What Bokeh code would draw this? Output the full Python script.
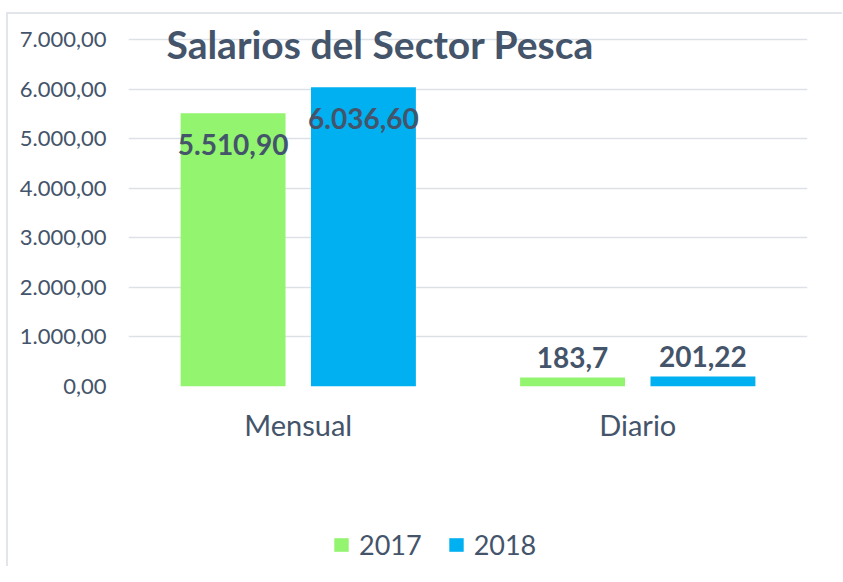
from bokeh.plotting import figure
from bokeh.layouts import column
from bokeh.models import (ColumnDataSource, FactorRange, Range1d, FixedTicker, Label,
                          Legend, LegendItem)
from bokeh.transform import dodge
from bokeh.core.properties import value
from bokeh.embed import file_html
from bokeh.resources import INLINE

# ---- data ----
categories = ["Mensual", "Diario"]
series_names = ["2017", "2018"]
values_2017 = [5510.90, 183.70]
values_2018 = [6036.60, 201.22]
labels_2017 = ["5.510,90", "183,7"]
labels_2018 = ["6.036,60", "201,22"]
y_ticks = [0, 1000, 2000, 3000, 4000, 5000, 6000, 7000]
y_tick_labels = ["0,00", "1.000,00", "2.000,00", "3.000,00", "4.000,00",
                 "5.000,00", "6.000,00", "7.000,00"]
title_text = "Salarios del Sector Pesca"

# ---- style ----
TEXT = "#44546A"
GREEN = "#92F46F"
BLUE = "#00B0F0"
GRID = "#DDE1E6"
FONT = "Lato"


def label_offsets(vals):
    # inside-end for tall bars, outside-end for short bars (pixels, screen down)
    return [31 if v >= 1000 else -20 for v in vals]


src = ColumnDataSource(dict(
    cat=categories,
    v17=values_2017, v18=values_2018,
    l17=labels_2017, l18=labels_2018,
    o17=label_offsets(values_2017), o18=label_offsets(values_2018),
))

# frame extends a little above the top tick so the title is not clipped
p = figure(width=834, height=502, output_backend="svg", toolbar_location=None,
           x_range=FactorRange(factors=categories, range_padding=0),
           y_range=Range1d(0, 7504),
           min_border_left=120, min_border_right=35, min_border_top=0, min_border_bottom=130,
           background_fill_color="white", border_fill_color="white")
p.outline_line_color = None

OFF = 0.192
W = 0.309
r17 = p.vbar(x=dodge("cat", -OFF, range=p.x_range), top="v17", width=W, source=src,
             fill_color=GREEN, line_color=None)
r18 = p.vbar(x=dodge("cat", OFF, range=p.x_range), top="v18", width=W, source=src,
             fill_color=BLUE, line_color=None)

p.text(x=dodge("cat", -OFF, range=p.x_range), y="v17", text="l17", y_offset="o17", source=src,
       text_font=value(FONT), text_font_style="bold", text_font_size="28px",
       text_color=TEXT, text_align="center", text_baseline="middle")
p.text(x=dodge("cat", OFF, range=p.x_range), y="v18", text="l18", y_offset="o18", source=src,
       text_font=value(FONT), text_font_style="bold", text_font_size="28px",
       text_color=TEXT, text_align="center", text_baseline="middle")

# axes
p.yaxis.ticker = FixedTicker(ticks=y_ticks)
p.yaxis.major_label_overrides = {t: s for t, s in zip(y_ticks, y_tick_labels)}
p.yaxis.major_label_text_font = FONT
p.yaxis.major_label_text_font_size = "22px"
p.yaxis.major_label_text_color = TEXT
p.yaxis.major_label_standoff = 22
for ax in (p.xaxis[0], p.yaxis[0]):
    ax.axis_line_color = None
    ax.major_tick_line_color = None
    ax.minor_tick_line_color = None
    ax.major_tick_out = 0
    ax.major_tick_in = 0
p.xaxis.major_label_text_font = FONT
p.xaxis.major_label_text_font_size = "29px"
p.xaxis.major_label_text_color = TEXT
p.xaxis.major_label_standoff = 20

p.xgrid.grid_line_color = None
p.ygrid.grid_line_color = GRID
p.ygrid.grid_line_width = 1.5

# title inside the plot area
p.add_layout(Label(x=38, y=343, x_units="screen", y_units="screen", text=title_text,
                   text_font=FONT, text_font_style="bold", text_font_size="39px",
                   text_color=TEXT, text_baseline="middle"))

# ---- legend strip below the chart ----
pl = figure(width=834, height=50, output_backend="svg", toolbar_location=None,
            x_range=p.x_range, y_range=Range1d(0, 1),
            x_axis_location=None, y_axis_location=None,
            min_border=0, background_fill_color="white", border_fill_color="white")
pl.outline_line_color = None
pl.grid.visible = False
g17 = pl.vbar(x=dodge("cat", -OFF, range=p.x_range), top="v17", width=W, source=src,
              fill_color=GREEN, line_color=None, visible=False)
g18 = pl.vbar(x=dodge("cat", OFF, range=p.x_range), top="v18", width=W, source=src,
              fill_color=BLUE, line_color=None, visible=False)
legend = Legend(items=[LegendItem(label=series_names[0], renderers=[g17]),
                       LegendItem(label=series_names[1], renderers=[g18])],
                orientation="horizontal", location=(204, 5),
                glyph_width=18, glyph_height=17, label_standoff=9, spacing=25,
                padding=0, margin=0, border_line_color=None, background_fill_alpha=0,
                label_text_font=FONT, label_text_font_size="27px", label_text_color=TEXT)
pl.add_layout(legend, "center")

layout = column(p, pl, spacing=0,
                styles={"border-left": "2px solid #E2E6EA", "border-top": "2px solid #E2E6EA",
                        "margin-top": "12px", "margin-left": "6px"})

open("out.html", "w").write(file_html(layout, INLINE))
